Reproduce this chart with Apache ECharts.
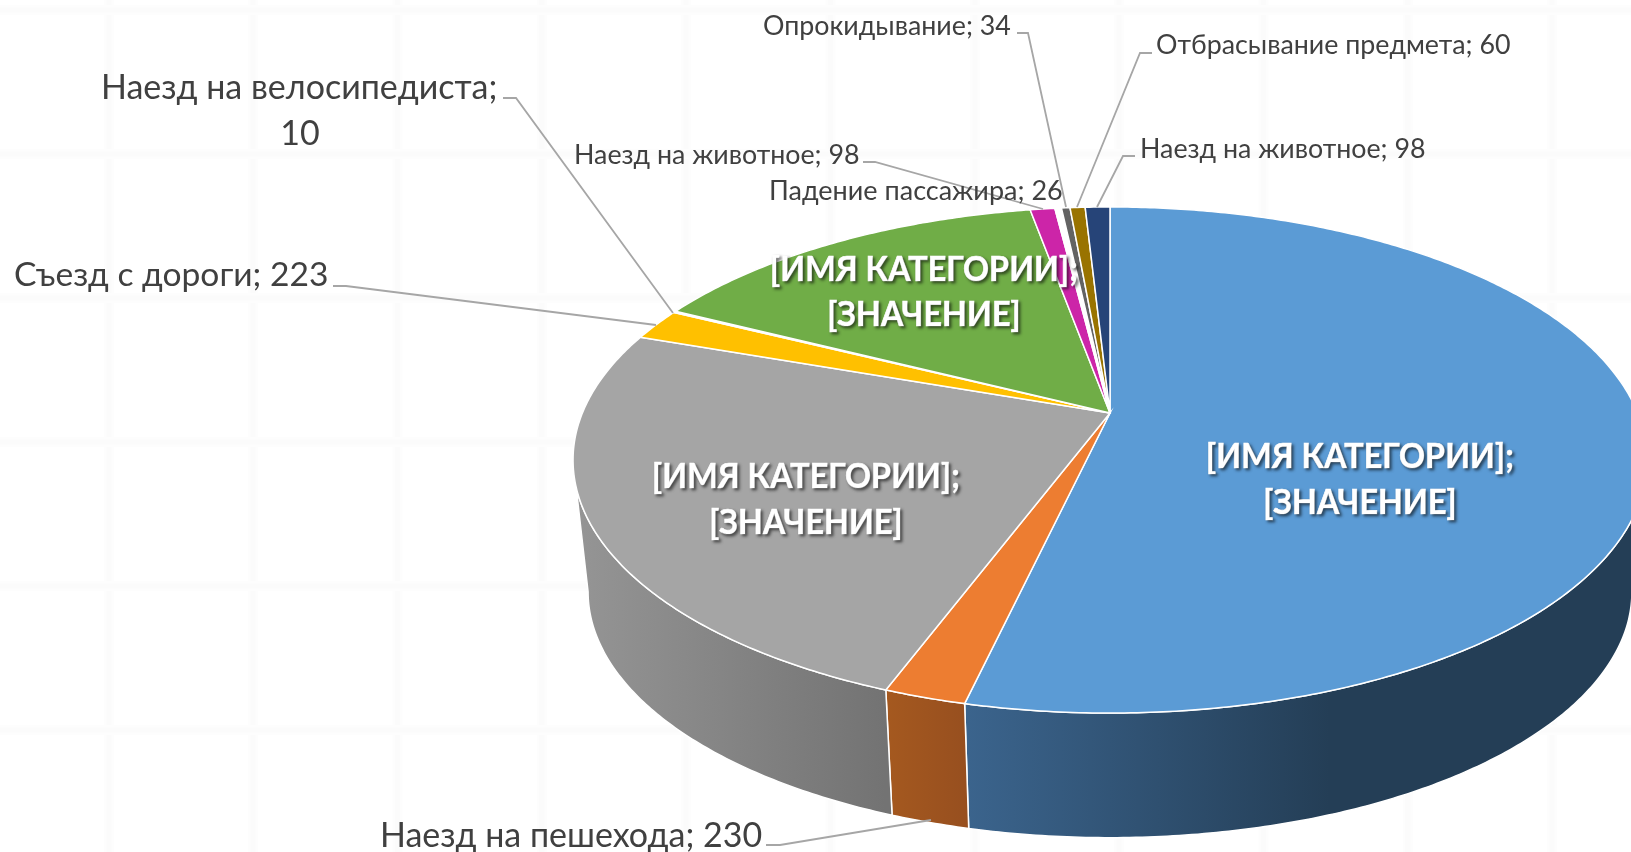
<!DOCTYPE html>
<html lang="ru">
<head>
	<meta charset="UTF-8">
	<title>ДТП по видам</title>
	<script src="https://cdn.jsdelivr.net/npm/echarts@6/dist/echarts.min.js"></script>
	<style>
		html, body { margin: 0; background: #fff; overflow: hidden; }
	</style>
</head>
<body>
	<div id="main" style="width: 1631px; height: 852px;"></div>
	<script>
		// данные
		var categories = ['Тип 1', 'Наезд на пешехода', 'Тип 3', 'Съезд с дороги', 'Наезд на велосипедиста',
			'Тип 6', 'Наезд на животное', 'Падение пассажира', 'Опрокидывание', 'Отбрасывание предмета', 'Наезд на животное']
		var values = [5914, 230, 2716, 223, 10, 1620, 98, 26, 34, 60, 98]
		var topColors = ['#5b9bd5', '#ed7d31', '#a5a5a5', '#ffc000', '#4472c4', '#70ad47', '#cc25a8', '#ffffff', '#636363', '#997300', '#264478']
		var placeholderLabel = ['[ИМЯ КАТЕГОРИИ];', '[ЗНАЧЕНИЕ]']

		// геометрия круга в перспективе
		var cx = 1110, cy = 413
		var radiusX = 527.6, radiusY = 244.3, perspective = 0.1858
		var wallHeight = 133, wallScale = 0.972

		var total = values.reduce(function (a, b) { return a + b }, 0)

		// видимая часть стенки: между крайними точками эллипса
		var wallFrom = Math.acos(-perspective)
		var wallTo = Math.PI * 2 - wallFrom

		function project(theta, bottom) {
			var x = Math.sin(theta), y = -Math.cos(theta)
			var w = 1 - perspective * y
			var dx = radiusX * x / w, dy = radiusY * y / w
			if (bottom) return [cx + wallScale * dx, cy + wallScale * dy + wallHeight]
			return [cx + dx, cy + dy]
		}

		function arcPoints(a0, a1, bottom) {
			var pts = []
			var n = Math.max(2, Math.ceil((a1 - a0) / 0.01))
			for (var i = 0; i <= n; i++) {
				pts.push(project(a0 + (a1 - a0) * i / n, bottom))
			}
			return pts
		}

		var slices = []
		var sum = 0
		for (var i = 0; i < values.length; i++) {
			slices.push([sum / total * Math.PI * 2, (sum + values[i]) / total * Math.PI * 2])
			sum += values[i]
		}

		function wallFill(i) {
			if (i === 0) return new echarts.graphic.LinearGradient(965, 0, 1330, 0, [{offset: 0, color: '#3b648d'}, {offset: 1, color: '#243e56'}], true)
			if (i === 1) return new echarts.graphic.LinearGradient(885, 0, 968, 0, [{offset: 0, color: '#a5591f'}, {offset: 1, color: '#974f1f'}], true)
			if (i === 2) return new echarts.graphic.LinearGradient(575, 0, 885, 0, [{offset: 0, color: '#959595'}, {offset: 1, color: '#737373'}], true)
			return '#888'
		}

		// куда ставить подписи и выноски
		var outerLabels = {
			1: {x: 380, y: 836, size: 34, line: [[766, 845], [780, 845], [931, 820]]},
			3: {x: 14, y: 275, size: 33.6, line: [[333, 286], [346, 286], [656, 325]]},
			4: {x: 101, y: 88, size: 34, wrap: [300, 134], line: [[503, 98], [516, 98], [673, 313]]},
			6: {x: 574, y: 155, size: 26.8, line: [[863, 162], [875, 162], [1043, 209]]},
			7: {x: 769, y: 191, size: 27, line: null},
			8: {x: 763, y: 26, size: 26.8, line: [[1017, 33], [1028, 33], [1066, 207]]},
			9: {x: 1156, y: 45, size: 26.8, line: [[1152, 53], [1140, 53], [1077, 207]]},
			10: {x: 1140, y: 149, size: 26.8, line: [[1135, 156], [1123, 156], [1097, 207]]}
		}
		var innerLabels = {
			0: [1360, 457, 503],
			2: [806, 477, 523],
			5: [924, 270, 315]
		}
		var fontName = 'Lato, "Noto Sans", sans-serif'

		// бледная сетка на фоне
		var backX = [], backY = []
		for (var gx = 109; gx < 1631; gx += 144.3) backX.push(gx)
		for (var gy = 10; gy < 852; gy += 144) backY.push(gy)

		function text(x, y, str, size, extra, scaleX) {
			var style = {
				text: str, fontSize: size, fontFamily: fontName, fill: '#404040',
				align: 'left', verticalAlign: 'middle'
			}
			for (var k in extra) style[k] = extra[k]
			return {type: 'text', x: x, y: y, scaleX: scaleX || 1, style: style}
		}

		function backLine(x1, y1, x2, y2) {
			return [
				{type: 'line', shape: {x1: x1, y1: y1, x2: x2, y2: y2}, style: {stroke: '#fdfdfd', lineWidth: 10}},
				{type: 'line', shape: {x1: x1, y1: y1, x2: x2, y2: y2}, style: {stroke: '#fbfbfb', lineWidth: 5}}
			]
		}

		var sliceData = values.map(function (v, i) { return [i, v] })

		var option = {
			animation: false,
			backgroundColor: '#fff',
			series: [
				{
					type: 'custom', coordinateSystem: 'none', silent: true, z: 1, data: [0],
					renderItem: function () {
						var children = []
						backX.forEach(function (x) {
							children = children.concat(backLine(x, 0, x, 852))
						})
						backY.forEach(function (y) {
							children = children.concat(backLine(0, y, 1631, y))
						})
						return {type: 'group', children: children}
					}
				},
				{
					// боковая стенка
					type: 'custom', coordinateSystem: 'none', silent: true, z: 2, data: sliceData,
					renderItem: function (params) {
						var i = params.dataIndex
						var a0 = Math.max(slices[i][0], wallFrom)
						var a1 = Math.min(slices[i][1], wallTo)
						if (a1 <= a0) return
						var pts = arcPoints(a0, a1, false).concat(arcPoints(a0, a1, true).reverse())
						return {type: 'polygon', shape: {points: pts}, style: {fill: wallFill(i), stroke: '#fff', lineWidth: 1.5}}
					}
				},
				{
					// верхняя грань
					type: 'custom', coordinateSystem: 'none', silent: true, z: 3, data: sliceData,
					renderItem: function (params) {
						var i = params.dataIndex
						var s = slices[i]
						var pts = [[cx, cy]].concat(arcPoints(s[0], s[1], false))
						return {type: 'polygon', shape: {points: pts}, style: {fill: topColors[i], stroke: '#fff', lineWidth: 1.5}}
					}
				},
				{
					// подписи
					type: 'custom', coordinateSystem: 'none', silent: true, z: 4, data: sliceData,
					renderItem: function (params) {
						var i = params.dataIndex
						var children = []
						var o = outerLabels[i]
						if (o) {
							if (o.line) children.push({type: 'polyline', shape: {points: o.line}, style: {stroke: '#a6a6a6', lineWidth: 1.8, fill: null}})
							if (o.wrap) {
								children.push(text(o.x, o.y, categories[i] + ';', o.size))
								children.push(text(o.wrap[0], o.wrap[1], String(values[i]), o.size, {align: 'center'}))
							} else {
								children.push(text(o.x, o.y, categories[i] + '; ' + values[i], o.size))
							}
						}
						var l = innerLabels[i]
						if (l) {
							var white = {
								align: 'center', fill: '#fff', fontWeight: 'bold',
								stroke: '#fff', lineWidth: 0.7,
								textShadowColor: 'rgba(0,0,0,0.55)', textShadowBlur: 3, textShadowOffsetX: 2, textShadowOffsetY: 2
							}
							children.push(text(l[0], l[1], placeholderLabel[0], 35, white, 0.925))
							children.push(text(l[0], l[2], placeholderLabel[1], 35, white, 0.925))
						}
						return {type: 'group', children: children}
					}
				}
			]
		}

		var myChart = echarts.init(document.getElementById('main'))
		myChart.setOption(option)
	</script>
</body>
</html>
